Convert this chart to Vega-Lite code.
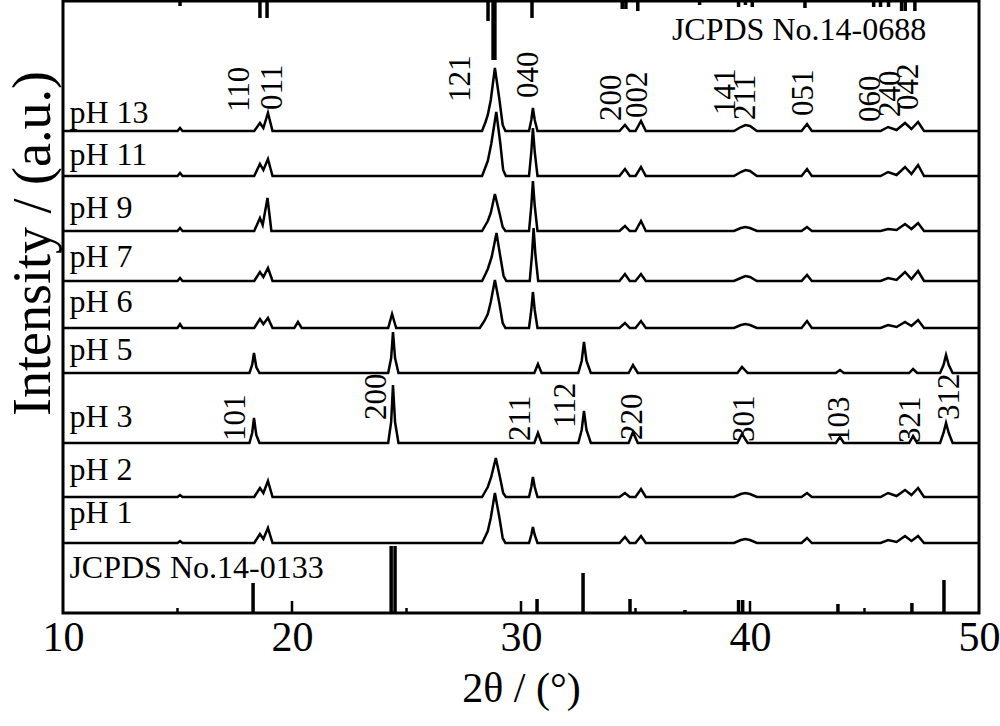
{
  "$schema": "https://vega.github.io/schema/vega-lite/v6.json",
  "width": 916,
  "height": 612,
  "autosize": "none",
  "padding": {"left": 63, "top": 1, "right": 21, "bottom": 113},
  "background": "white",
  "config": {
    "font": "Liberation Serif, Times New Roman, serif",
    "view": {"stroke": "black", "strokeWidth": 3},
    "axis": {"grid": false, "labelColor": "black", "titleColor": "black", "titleFontWeight": "normal"}
  },
  "datasets": {
    "lines": [
      {"s":"pH 13","x":10,"y":482},{"s":"pH 13","x":15.0,"y":482},{"s":"pH 13","x":15.11,"y":485},{"s":"pH 13","x":15.22,"y":482},{"s":"pH 13","x":18.35,"y":482},{"s":"pH 13","x":18.6,"y":490},{"s":"pH 13","x":18.75,"y":485},{"s":"pH 13","x":18.95,"y":500},{"s":"pH 13","x":19.15,"y":482},{"s":"pH 13","x":28.3,"y":482},{"s":"pH 13","x":28.45,"y":491},{"s":"pH 13","x":28.55,"y":498},{"s":"pH 13","x":28.68,"y":513},{"s":"pH 13","x":28.86,"y":545},{"s":"pH 13","x":29.06,"y":513},{"s":"pH 13","x":29.2,"y":488},{"s":"pH 13","x":29.32,"y":482},{"s":"pH 13","x":30.35,"y":482},{"s":"pH 13","x":30.45,"y":493},{"s":"pH 13","x":30.52,"y":505},{"s":"pH 13","x":30.6,"y":493},{"s":"pH 13","x":30.72,"y":482},{"s":"pH 13","x":34.3,"y":482},{"s":"pH 13","x":34.54,"y":488},{"s":"pH 13","x":34.75,"y":482},{"s":"pH 13","x":35.0,"y":482},{"s":"pH 13","x":35.24,"y":492},{"s":"pH 13","x":35.45,"y":482},{"s":"pH 13","x":39.3,"y":482},{"s":"pH 13","x":39.6,"y":486},{"s":"pH 13","x":39.8,"y":488},{"s":"pH 13","x":40.0,"y":487},{"s":"pH 13","x":40.3,"y":482},{"s":"pH 13","x":42.25,"y":482},{"s":"pH 13","x":42.49,"y":489},{"s":"pH 13","x":42.7,"y":482},{"s":"pH 13","x":45.7,"y":482},{"s":"pH 13","x":46.03,"y":486},{"s":"pH 13","x":46.4,"y":483},{"s":"pH 13","x":46.77,"y":490},{"s":"pH 13","x":47.05,"y":484},{"s":"pH 13","x":47.34,"y":491},{"s":"pH 13","x":47.6,"y":482},{"s":"pH 13","x":50,"y":482},
      {"s":"pH 11","x":10,"y":437},{"s":"pH 11","x":15.0,"y":437},{"s":"pH 11","x":15.11,"y":440},{"s":"pH 11","x":15.22,"y":437},{"s":"pH 11","x":18.35,"y":437},{"s":"pH 11","x":18.6,"y":449},{"s":"pH 11","x":18.75,"y":443},{"s":"pH 11","x":18.95,"y":454},{"s":"pH 11","x":19.15,"y":437},{"s":"pH 11","x":28.3,"y":437},{"s":"pH 11","x":28.45,"y":446},{"s":"pH 11","x":28.55,"y":452},{"s":"pH 11","x":28.7,"y":469},{"s":"pH 11","x":28.92,"y":501},{"s":"pH 11","x":29.1,"y":469},{"s":"pH 11","x":29.22,"y":443},{"s":"pH 11","x":29.34,"y":437},{"s":"pH 11","x":30.35,"y":437},{"s":"pH 11","x":30.45,"y":461},{"s":"pH 11","x":30.52,"y":485},{"s":"pH 11","x":30.6,"y":461},{"s":"pH 11","x":30.72,"y":437},{"s":"pH 11","x":34.3,"y":437},{"s":"pH 11","x":34.54,"y":444},{"s":"pH 11","x":34.75,"y":437},{"s":"pH 11","x":35.0,"y":437},{"s":"pH 11","x":35.24,"y":446},{"s":"pH 11","x":35.45,"y":437},{"s":"pH 11","x":39.3,"y":437},{"s":"pH 11","x":39.6,"y":441},{"s":"pH 11","x":39.8,"y":443},{"s":"pH 11","x":40.0,"y":442},{"s":"pH 11","x":40.3,"y":437},{"s":"pH 11","x":42.25,"y":437},{"s":"pH 11","x":42.49,"y":444},{"s":"pH 11","x":42.7,"y":437},{"s":"pH 11","x":45.7,"y":437},{"s":"pH 11","x":46.03,"y":441},{"s":"pH 11","x":46.4,"y":438},{"s":"pH 11","x":46.77,"y":446},{"s":"pH 11","x":47.05,"y":439},{"s":"pH 11","x":47.34,"y":448},{"s":"pH 11","x":47.6,"y":437},{"s":"pH 11","x":50,"y":437},
      {"s":"pH 9","x":10,"y":382},{"s":"pH 9","x":15.0,"y":382},{"s":"pH 9","x":15.11,"y":385},{"s":"pH 9","x":15.22,"y":382},{"s":"pH 9","x":18.35,"y":382},{"s":"pH 9","x":18.6,"y":395},{"s":"pH 9","x":18.72,"y":388},{"s":"pH 9","x":18.93,"y":415},{"s":"pH 9","x":19.1,"y":382},{"s":"pH 9","x":28.3,"y":382},{"s":"pH 9","x":28.45,"y":388},{"s":"pH 9","x":28.55,"y":392},{"s":"pH 9","x":28.68,"y":400},{"s":"pH 9","x":28.86,"y":419},{"s":"pH 9","x":29.06,"y":400},{"s":"pH 9","x":29.2,"y":386},{"s":"pH 9","x":29.32,"y":382},{"s":"pH 9","x":30.35,"y":382},{"s":"pH 9","x":30.45,"y":407},{"s":"pH 9","x":30.52,"y":432},{"s":"pH 9","x":30.6,"y":407},{"s":"pH 9","x":30.72,"y":382},{"s":"pH 9","x":34.3,"y":382},{"s":"pH 9","x":34.54,"y":387},{"s":"pH 9","x":34.75,"y":382},{"s":"pH 9","x":35.0,"y":382},{"s":"pH 9","x":35.24,"y":392},{"s":"pH 9","x":35.45,"y":382},{"s":"pH 9","x":39.3,"y":382},{"s":"pH 9","x":39.6,"y":385},{"s":"pH 9","x":39.8,"y":386},{"s":"pH 9","x":40.0,"y":385},{"s":"pH 9","x":40.3,"y":382},{"s":"pH 9","x":42.25,"y":382},{"s":"pH 9","x":42.49,"y":386},{"s":"pH 9","x":42.7,"y":382},{"s":"pH 9","x":45.7,"y":382},{"s":"pH 9","x":46.03,"y":384},{"s":"pH 9","x":46.4,"y":383},{"s":"pH 9","x":46.77,"y":389},{"s":"pH 9","x":47.05,"y":384},{"s":"pH 9","x":47.34,"y":390},{"s":"pH 9","x":47.6,"y":382},{"s":"pH 9","x":50,"y":382},
      {"s":"pH 7","x":10,"y":332},{"s":"pH 7","x":15.0,"y":332},{"s":"pH 7","x":15.11,"y":335},{"s":"pH 7","x":15.22,"y":332},{"s":"pH 7","x":18.35,"y":332},{"s":"pH 7","x":18.6,"y":341},{"s":"pH 7","x":18.75,"y":336},{"s":"pH 7","x":18.95,"y":345},{"s":"pH 7","x":19.15,"y":332},{"s":"pH 7","x":28.3,"y":332},{"s":"pH 7","x":28.45,"y":339},{"s":"pH 7","x":28.55,"y":344},{"s":"pH 7","x":28.72,"y":356},{"s":"pH 7","x":28.93,"y":380},{"s":"pH 7","x":29.1,"y":356},{"s":"pH 7","x":29.24,"y":337},{"s":"pH 7","x":29.36,"y":332},{"s":"pH 7","x":30.38,"y":332},{"s":"pH 7","x":30.48,"y":358},{"s":"pH 7","x":30.55,"y":385},{"s":"pH 7","x":30.63,"y":358},{"s":"pH 7","x":30.75,"y":332},{"s":"pH 7","x":34.3,"y":332},{"s":"pH 7","x":34.54,"y":339},{"s":"pH 7","x":34.75,"y":332},{"s":"pH 7","x":35.0,"y":332},{"s":"pH 7","x":35.24,"y":339},{"s":"pH 7","x":35.45,"y":332},{"s":"pH 7","x":39.3,"y":332},{"s":"pH 7","x":39.6,"y":335},{"s":"pH 7","x":39.8,"y":337},{"s":"pH 7","x":40.0,"y":336},{"s":"pH 7","x":40.3,"y":332},{"s":"pH 7","x":42.25,"y":332},{"s":"pH 7","x":42.49,"y":338},{"s":"pH 7","x":42.7,"y":332},{"s":"pH 7","x":45.7,"y":332},{"s":"pH 7","x":46.03,"y":335},{"s":"pH 7","x":46.4,"y":333},{"s":"pH 7","x":46.77,"y":341},{"s":"pH 7","x":47.05,"y":334},{"s":"pH 7","x":47.34,"y":342},{"s":"pH 7","x":47.6,"y":332},{"s":"pH 7","x":50,"y":332},
      {"s":"pH 6","x":10,"y":285},{"s":"pH 6","x":15.0,"y":285},{"s":"pH 6","x":15.11,"y":289},{"s":"pH 6","x":15.22,"y":285},{"s":"pH 6","x":18.35,"y":285},{"s":"pH 6","x":18.6,"y":294},{"s":"pH 6","x":18.75,"y":289},{"s":"pH 6","x":18.95,"y":295},{"s":"pH 6","x":19.15,"y":285},{"s":"pH 6","x":20.1,"y":285},{"s":"pH 6","x":20.26,"y":291},{"s":"pH 6","x":20.42,"y":285},{"s":"pH 6","x":24.2,"y":285},{"s":"pH 6","x":24.37,"y":299},{"s":"pH 6","x":24.55,"y":285},{"s":"pH 6","x":28.2,"y":285},{"s":"pH 6","x":28.4,"y":292},{"s":"pH 6","x":28.55,"y":299},{"s":"pH 6","x":28.68,"y":311},{"s":"pH 6","x":28.86,"y":333},{"s":"pH 6","x":29.06,"y":309},{"s":"pH 6","x":29.2,"y":290},{"s":"pH 6","x":29.32,"y":285},{"s":"pH 6","x":30.35,"y":285},{"s":"pH 6","x":30.45,"y":303},{"s":"pH 6","x":30.52,"y":321},{"s":"pH 6","x":30.6,"y":303},{"s":"pH 6","x":30.72,"y":285},{"s":"pH 6","x":34.3,"y":285},{"s":"pH 6","x":34.54,"y":290},{"s":"pH 6","x":34.75,"y":285},{"s":"pH 6","x":35.0,"y":285},{"s":"pH 6","x":35.24,"y":292},{"s":"pH 6","x":35.45,"y":285},{"s":"pH 6","x":39.3,"y":285},{"s":"pH 6","x":39.6,"y":288},{"s":"pH 6","x":39.8,"y":289},{"s":"pH 6","x":40.0,"y":288},{"s":"pH 6","x":40.3,"y":285},{"s":"pH 6","x":42.25,"y":285},{"s":"pH 6","x":42.49,"y":292},{"s":"pH 6","x":42.7,"y":285},{"s":"pH 6","x":45.7,"y":285},{"s":"pH 6","x":46.03,"y":288},{"s":"pH 6","x":46.4,"y":286},{"s":"pH 6","x":46.77,"y":291},{"s":"pH 6","x":47.05,"y":287},{"s":"pH 6","x":47.34,"y":293},{"s":"pH 6","x":47.6,"y":285},{"s":"pH 6","x":50,"y":285},
      {"s":"pH 5","x":10,"y":240},{"s":"pH 5","x":18.14,"y":240},{"s":"pH 5","x":18.26,"y":248},{"s":"pH 5","x":18.34,"y":260},{"s":"pH 5","x":18.44,"y":246},{"s":"pH 5","x":18.58,"y":240},{"s":"pH 5","x":24.2,"y":240},{"s":"pH 5","x":24.33,"y":255},{"s":"pH 5","x":24.41,"y":281},{"s":"pH 5","x":24.5,"y":255},{"s":"pH 5","x":24.65,"y":240},{"s":"pH 5","x":30.58,"y":240},{"s":"pH 5","x":30.74,"y":249},{"s":"pH 5","x":30.9,"y":240},{"s":"pH 5","x":32.5,"y":240},{"s":"pH 5","x":32.65,"y":252},{"s":"pH 5","x":32.75,"y":271},{"s":"pH 5","x":32.86,"y":252},{"s":"pH 5","x":33.05,"y":240},{"s":"pH 5","x":34.7,"y":240},{"s":"pH 5","x":34.89,"y":248},{"s":"pH 5","x":35.1,"y":240},{"s":"pH 5","x":39.45,"y":240},{"s":"pH 5","x":39.65,"y":246},{"s":"pH 5","x":39.9,"y":240},{"s":"pH 5","x":43.75,"y":240},{"s":"pH 5","x":43.93,"y":243},{"s":"pH 5","x":44.1,"y":240},{"s":"pH 5","x":46.95,"y":240},{"s":"pH 5","x":47.12,"y":244},{"s":"pH 5","x":47.3,"y":240},{"s":"pH 5","x":48.3,"y":240},{"s":"pH 5","x":48.45,"y":248},{"s":"pH 5","x":48.56,"y":258},{"s":"pH 5","x":48.68,"y":248},{"s":"pH 5","x":48.85,"y":240},{"s":"pH 5","x":50,"y":240},
      {"s":"pH 3","x":10,"y":170},{"s":"pH 3","x":18.14,"y":170},{"s":"pH 3","x":18.26,"y":180},{"s":"pH 3","x":18.34,"y":195},{"s":"pH 3","x":18.44,"y":178},{"s":"pH 3","x":18.58,"y":170},{"s":"pH 3","x":24.2,"y":170},{"s":"pH 3","x":24.33,"y":191},{"s":"pH 3","x":24.41,"y":228},{"s":"pH 3","x":24.5,"y":191},{"s":"pH 3","x":24.65,"y":170},{"s":"pH 3","x":30.58,"y":170},{"s":"pH 3","x":30.74,"y":180},{"s":"pH 3","x":30.9,"y":170},{"s":"pH 3","x":32.5,"y":170},{"s":"pH 3","x":32.65,"y":183},{"s":"pH 3","x":32.75,"y":202},{"s":"pH 3","x":32.86,"y":183},{"s":"pH 3","x":33.05,"y":170},{"s":"pH 3","x":34.7,"y":170},{"s":"pH 3","x":34.89,"y":181},{"s":"pH 3","x":35.1,"y":170},{"s":"pH 3","x":39.45,"y":170},{"s":"pH 3","x":39.65,"y":179},{"s":"pH 3","x":39.9,"y":170},{"s":"pH 3","x":43.75,"y":170},{"s":"pH 3","x":43.93,"y":176},{"s":"pH 3","x":44.1,"y":170},{"s":"pH 3","x":46.95,"y":170},{"s":"pH 3","x":47.12,"y":177},{"s":"pH 3","x":47.3,"y":170},{"s":"pH 3","x":48.3,"y":170},{"s":"pH 3","x":48.45,"y":180},{"s":"pH 3","x":48.56,"y":190},{"s":"pH 3","x":48.68,"y":180},{"s":"pH 3","x":48.85,"y":170},{"s":"pH 3","x":50,"y":170},
      {"s":"pH 2","x":10,"y":116},{"s":"pH 2","x":15.0,"y":116},{"s":"pH 2","x":15.11,"y":118},{"s":"pH 2","x":15.22,"y":116},{"s":"pH 2","x":18.35,"y":116},{"s":"pH 2","x":18.6,"y":125},{"s":"pH 2","x":18.75,"y":120},{"s":"pH 2","x":18.95,"y":132},{"s":"pH 2","x":19.15,"y":116},{"s":"pH 2","x":28.3,"y":116},{"s":"pH 2","x":28.45,"y":122},{"s":"pH 2","x":28.55,"y":126},{"s":"pH 2","x":28.7,"y":136},{"s":"pH 2","x":28.9,"y":155},{"s":"pH 2","x":29.08,"y":136},{"s":"pH 2","x":29.22,"y":120},{"s":"pH 2","x":29.34,"y":116},{"s":"pH 2","x":30.35,"y":116},{"s":"pH 2","x":30.45,"y":126},{"s":"pH 2","x":30.52,"y":136},{"s":"pH 2","x":30.6,"y":126},{"s":"pH 2","x":30.72,"y":116},{"s":"pH 2","x":34.3,"y":116},{"s":"pH 2","x":34.54,"y":120},{"s":"pH 2","x":34.75,"y":116},{"s":"pH 2","x":35.0,"y":116},{"s":"pH 2","x":35.24,"y":124},{"s":"pH 2","x":35.45,"y":116},{"s":"pH 2","x":39.3,"y":116},{"s":"pH 2","x":39.6,"y":119},{"s":"pH 2","x":39.8,"y":120},{"s":"pH 2","x":40.0,"y":119},{"s":"pH 2","x":40.3,"y":116},{"s":"pH 2","x":42.25,"y":116},{"s":"pH 2","x":42.49,"y":120},{"s":"pH 2","x":42.7,"y":116},{"s":"pH 2","x":45.7,"y":116},{"s":"pH 2","x":46.03,"y":120},{"s":"pH 2","x":46.4,"y":117},{"s":"pH 2","x":46.77,"y":123},{"s":"pH 2","x":47.05,"y":118},{"s":"pH 2","x":47.34,"y":125},{"s":"pH 2","x":47.6,"y":116},{"s":"pH 2","x":50,"y":116},
      {"s":"pH 1","x":10,"y":70},{"s":"pH 1","x":15.0,"y":70},{"s":"pH 1","x":15.11,"y":72},{"s":"pH 1","x":15.22,"y":70},{"s":"pH 1","x":18.35,"y":70},{"s":"pH 1","x":18.6,"y":79},{"s":"pH 1","x":18.75,"y":74},{"s":"pH 1","x":18.95,"y":85},{"s":"pH 1","x":19.15,"y":70},{"s":"pH 1","x":28.3,"y":70},{"s":"pH 1","x":28.45,"y":77},{"s":"pH 1","x":28.55,"y":82},{"s":"pH 1","x":28.68,"y":95},{"s":"pH 1","x":28.86,"y":120},{"s":"pH 1","x":29.06,"y":95},{"s":"pH 1","x":29.2,"y":75},{"s":"pH 1","x":29.32,"y":70},{"s":"pH 1","x":30.35,"y":70},{"s":"pH 1","x":30.45,"y":78},{"s":"pH 1","x":30.52,"y":86},{"s":"pH 1","x":30.6,"y":78},{"s":"pH 1","x":30.72,"y":70},{"s":"pH 1","x":34.3,"y":70},{"s":"pH 1","x":34.54,"y":76},{"s":"pH 1","x":34.75,"y":70},{"s":"pH 1","x":35.0,"y":70},{"s":"pH 1","x":35.24,"y":77},{"s":"pH 1","x":35.45,"y":70},{"s":"pH 1","x":39.3,"y":70},{"s":"pH 1","x":39.6,"y":73},{"s":"pH 1","x":39.8,"y":74},{"s":"pH 1","x":40.0,"y":73},{"s":"pH 1","x":40.3,"y":70},{"s":"pH 1","x":42.25,"y":70},{"s":"pH 1","x":42.49,"y":75},{"s":"pH 1","x":42.7,"y":70},{"s":"pH 1","x":45.7,"y":70},{"s":"pH 1","x":46.03,"y":73},{"s":"pH 1","x":46.4,"y":71},{"s":"pH 1","x":46.77,"y":77},{"s":"pH 1","x":47.05,"y":72},{"s":"pH 1","x":47.34,"y":77},{"s":"pH 1","x":47.6,"y":70},{"s":"pH 1","x":50,"y":70}
    ],
    "sticks": [
      {"ref":"14-0688","x":15.11,"y":612,"y2":607},
      {"ref":"14-0688","x":18.6,"y":612,"y2":595},
      {"ref":"14-0688","x":18.91,"y":612,"y2":595},
      {"ref":"14-0688","x":28.56,"y":612,"y2":592},
      {"ref":"14-0688","x":28.78,"y":612,"y2":553},
      {"ref":"14-0688","x":28.86,"y":612,"y2":553},
      {"ref":"14-0688","x":30.48,"y":612,"y2":595},
      {"ref":"14-0688","x":34.42,"y":612,"y2":604},
      {"ref":"14-0688","x":34.58,"y":612,"y2":604},
      {"ref":"14-0688","x":35.1,"y":612,"y2":602},
      {"ref":"14-0688","x":37.8,"y":612,"y2":608},
      {"ref":"14-0688","x":39.5,"y":612,"y2":606},
      {"ref":"14-0688","x":39.8,"y":612,"y2":608},
      {"ref":"14-0688","x":40.1,"y":612,"y2":606},
      {"ref":"14-0688","x":42.4,"y":612,"y2":605},
      {"ref":"14-0688","x":45.4,"y":612,"y2":606},
      {"ref":"14-0688","x":45.7,"y":612,"y2":606},
      {"ref":"14-0688","x":46.05,"y":612,"y2":606},
      {"ref":"14-0688","x":46.62,"y":612,"y2":602},
      {"ref":"14-0688","x":46.78,"y":612,"y2":602},
      {"ref":"14-0688","x":47.2,"y":612,"y2":602},
      {"ref":"14-0133","x":18.3,"y":0,"y2":30},
      {"ref":"14-0133","x":24.33,"y":0,"y2":67},
      {"ref":"14-0133","x":24.5,"y":0,"y2":67},
      {"ref":"14-0133","x":30.7,"y":0,"y2":14},
      {"ref":"14-0133","x":32.71,"y":0,"y2":40},
      {"ref":"14-0133","x":34.76,"y":0,"y2":14},
      {"ref":"14-0133","x":37.16,"y":0,"y2":3},
      {"ref":"14-0133","x":39.5,"y":0,"y2":13},
      {"ref":"14-0133","x":39.68,"y":0,"y2":13},
      {"ref":"14-0133","x":43.84,"y":0,"y2":9},
      {"ref":"14-0133","x":47.07,"y":0,"y2":10},
      {"ref":"14-0133","x":48.47,"y":0,"y2":33}
    ],
    "ticks": [
      {"x":15,"y":0,"y2":5},{"x":20,"y":0,"y2":12},{"x":25,"y":0,"y2":5},{"x":30,"y":0,"y2":12},
      {"x":35,"y":0,"y2":5},{"x":40,"y":0,"y2":12},{"x":45,"y":0,"y2":5}
    ],
    "names": [
      {"t":"pH 13","x":10.28,"y":490},
      {"t":"pH 11","x":10.28,"y":448},
      {"t":"pH 9","x":10.28,"y":395},
      {"t":"pH 7","x":10.28,"y":346},
      {"t":"pH 6","x":10.28,"y":301},
      {"t":"pH 5","x":10.28,"y":253},
      {"t":"pH 3","x":10.28,"y":186},
      {"t":"pH 2","x":10.28,"y":133},
      {"t":"pH 1","x":10.28,"y":90},
      {"t":"JCPDS No.14-0133","x":10.28,"y":35},
      {"t":"JCPDS No.14-0688","x":36.59,"y":573}
    ],
    "hkl": [
      {"t":"110","x":17.73,"y":501},
      {"t":"011","x":19.17,"y":503},
      {"t":"121","x":27.38,"y":511},
      {"t":"040","x":30.35,"y":515},
      {"t":"200","x":33.97,"y":492},
      {"t":"002","x":35.11,"y":495},
      {"t":"141","x":38.95,"y":498},
      {"t":"211","x":39.83,"y":493},
      {"t":"051","x":42.36,"y":497},
      {"t":"060","x":45.28,"y":491},
      {"t":"240","x":46.16,"y":496},
      {"t":"042","x":46.94,"y":503},
      {"t":"101","x":17.55,"y":172},
      {"t":"200","x":23.71,"y":193},
      {"t":"211","x":30.0,"y":172},
      {"t":"112","x":31.97,"y":185},
      {"t":"220","x":34.89,"y":173},
      {"t":"301","x":39.78,"y":171},
      {"t":"103","x":43.93,"y":170},
      {"t":"321","x":47.03,"y":170},
      {"t":"312","x":48.73,"y":193}
    ]
  },
  "layer": [
    {
      "data": {"name": "lines"},
      "mark": {"type": "line", "color": "black", "strokeWidth": 2.5, "interpolate": "linear"},
      "encoding": {
        "x": {"field": "x", "type": "quantitative", "scale": {"domain": [10, 50], "nice": false, "zero": false},
              "axis": {"values": [10, 20, 30, 40, 50], "ticks": false, "domain": false, "labelFlush": false, "labelOverlap": false, "labelFontSize": 42, "labelPadding": 4, "labelFont": "Liberation Serif, Times New Roman, serif", "title": "2θ / (°)", "titleFontSize": 42, "titleFont": "Liberation Serif, Times New Roman, serif", "titlePadding": 10}},
        "y": {"field": "y", "type": "quantitative", "scale": {"domain": [0, 612], "nice": false, "zero": false},
              "axis": {"ticks": false, "labels": false, "domain": false, "title": "Intensity / (a.u.)", "titleFontSize": 54, "titleFont": "Liberation Serif, Times New Roman, serif", "titleAngle": 270, "titleAlign": "center", "titleBaseline": "alphabetic", "titleX": -14, "titleY": 242}},
        "detail": {"field": "s", "type": "nominal"}
      }
    },
    {
      "data": {"name": "sticks"},
      "mark": {"type": "rule", "color": "black", "strokeWidth": 3.5},
      "encoding": {
        "x": {"field": "x", "type": "quantitative"},
        "y": {"field": "y", "type": "quantitative"},
        "y2": {"field": "y2"}
      }
    },
    {
      "data": {"name": "ticks"},
      "mark": {"type": "rule", "color": "black", "strokeWidth": 2.5},
      "encoding": {
        "x": {"field": "x", "type": "quantitative"},
        "y": {"field": "y", "type": "quantitative"},
        "y2": {"field": "y2"}
      }
    },
    {
      "data": {"name": "names"},
      "mark": {"type": "text", "color": "black", "fontSize": 32, "font": "Liberation Serif, Times New Roman, serif", "align": "left", "baseline": "alphabetic"},
      "encoding": {
        "x": {"field": "x", "type": "quantitative"},
        "y": {"field": "y", "type": "quantitative"},
        "text": {"field": "t"}
      }
    },
    {
      "data": {"name": "hkl"},
      "mark": {"type": "text", "color": "black", "fontSize": 31, "font": "Liberation Serif, Times New Roman, serif", "align": "left", "baseline": "middle", "angle": 270},
      "encoding": {
        "x": {"field": "x", "type": "quantitative"},
        "y": {"field": "y", "type": "quantitative"},
        "text": {"field": "t"}
      }
    }
  ]
}
